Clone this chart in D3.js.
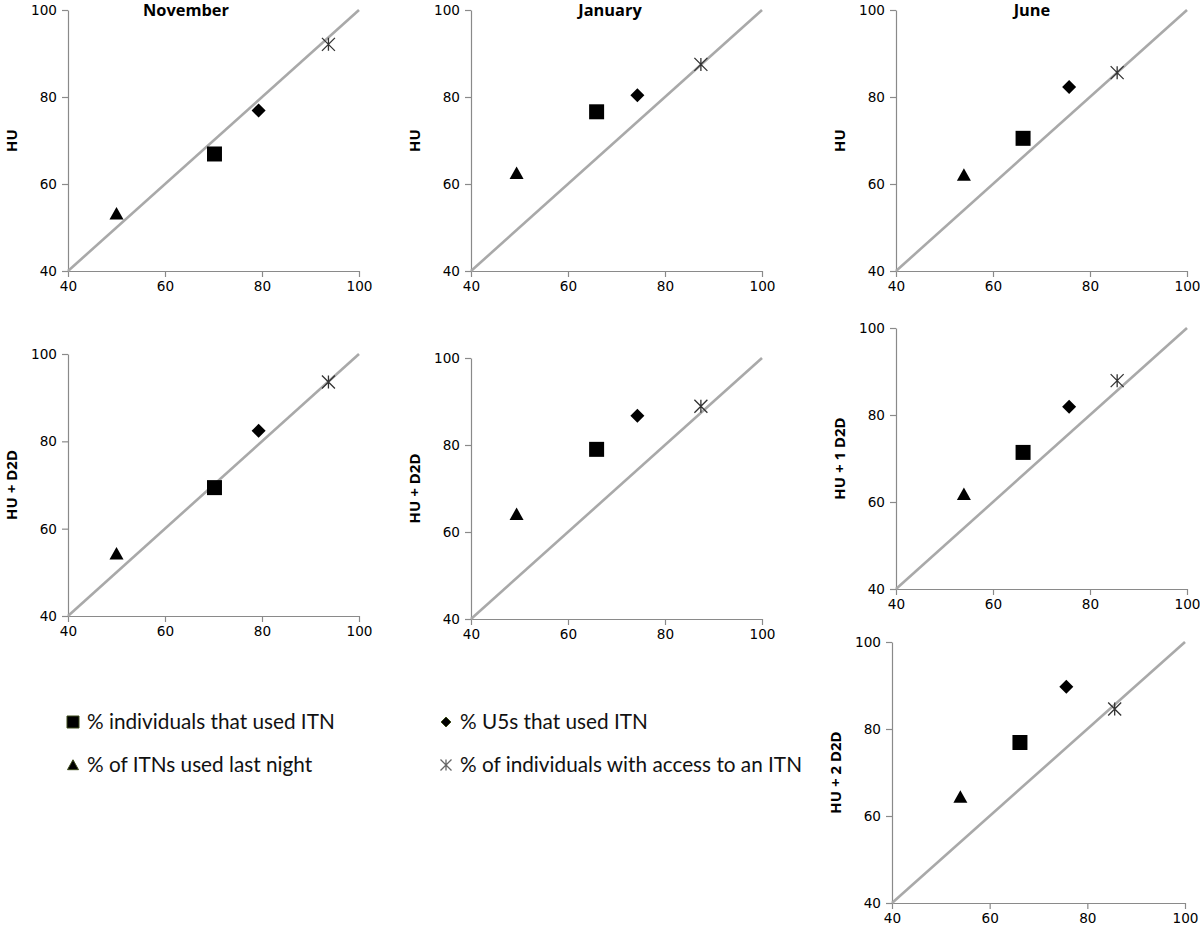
<!DOCTYPE html>
<html>
<head>
<meta charset="utf-8">
<script src="https://cdn.jsdelivr.net/npm/d3@7"></script>
<style>
  html, body { margin: 0; padding: 0; background: #fff; }
  svg { display: block; }
</style>
</head>
<body>
<svg id="chart" width="1200" height="934"></svg>
<script>
// ---------- DATA ----------
const seriesNames = [
  "% individuals that used ITN",
  "% U5s that used ITN",
  "% of ITNs used last night",
  "% of individuals with access to an ITN"
];
const seriesShapes = ["square", "diamond", "triangle", "star"];
const months = ["November", "January", "June"];
const tickValues = [40, 60, 80, 100];

// x values (same for every strategy in a month), order = seriesNames
const xNovember = [70.2, 79.3, 50.0, 93.7];
const xJanuary  = [65.9, 74.3, 49.4, 87.4];
const xJune     = [66.2, 75.7, 54.0, 85.6];

// y values per strategy, order = seriesNames
const yNovemberHU     = [66.9, 76.9, 53.2, 92.1];
const yNovemberHUD2D  = [69.4, 82.4, 54.3, 93.6];
const yJanuaryHU      = [76.6, 80.4, 62.5, 87.5];
const yJanuaryHUD2D   = [79.0, 86.7, 64.1, 88.9];
const yJuneHU         = [70.5, 82.3, 62.1, 85.6];
const yJuneHU1D2D     = [71.4, 81.9, 61.8, 87.9];
const yJuneHU2D2D     = [76.9, 89.7, 64.4, 84.6];

const yLabels = ["HU", "HU + D2D", "HU", "HU + D2D", "HU", "HU + 1 D2D", "HU + 2 D2D"];

// ---------- LAYOUT ----------
const panels = [
  {title: months[0], ylab: yLabels[0], xs: xNovember, ys: yNovemberHU,    box: [68, 359, 10, 271],  titleX: 186},
  {title: months[1], ylab: yLabels[2], xs: xJanuary,  ys: yJanuaryHU,     box: [471, 762, 10, 271], titleX: 610},
  {title: months[2], ylab: yLabels[4], xs: xJune,     ys: yJuneHU,        box: [896, 1187, 10, 271], titleX: 1032},
  {title: null,      ylab: yLabels[1], xs: xNovember, ys: yNovemberHUD2D, box: [68, 359, 354, 616]},
  {title: null,      ylab: yLabels[3], xs: xJanuary,  ys: yJanuaryHUD2D,  box: [471, 762, 358, 619]},
  {title: null,      ylab: yLabels[5], xs: xJune,     ys: yJuneHU1D2D,    box: [896, 1187, 328, 589]},
  {title: null,      ylab: yLabels[6], xs: xJune,     ys: yJuneHU2D2D,    box: [892, 1185, 642, 903]}
];

const svg = d3.select("#chart");
const axisColor = "#8a8a8a";
const diagColor = "#a9a9a9";
const tickFont = "'DejaVu Sans', Verdana, sans-serif";
const labelFont = "'Open Sans', 'Liberation Sans', Arial, sans-serif";
const legendFont = "Lato, 'Open Sans', sans-serif";

// font size that makes `txt` as wide as `target` pixels in the given font
function fitSize(txt, family, weight, target) {
  const t = svg.append("text").style("font-family", family).style("font-weight", weight)
    .style("font-size", "20px").text(txt);
  const w = t.node().getComputedTextLength();
  t.remove();
  return 20 * target / w;
}
const tickSize   = fitSize("100", tickFont, "normal", 26);
const titleSize  = fitSize("November", labelFont, "bold", 86);
const ylabSize   = fitSize("HU + D2D", labelFont, "bold", 70);
const legendSize = fitSize(seriesNames[0], legendFont, "normal", 248);

function shapePath(shape, s) {
  const h = s / 2;
  switch (shape) {
    case "square":   return `M${-h},${-h}H${h}V${h}H${-h}Z`;
    case "diamond":  return `M0,${-h}L${h},0L0,${h}L${-h},0Z`;
    case "triangle": return `M0,${-h * 0.95}L${h},${h * 0.85}L${-h},${h * 0.85}Z`;
    case "star":     return `M${-h},${-h}L${h},${h}M${-h},${h}L${h},${-h}M0,${-h}L0,${h}`;
  }
}
const markerSize = {square: 15, diamond: 14, triangle: 14, star: 13};

panels.forEach(p => {
  const [x0, x1, y0, y1] = p.box;
  const x = d3.scaleLinear().domain([40, 100]).range([x0, x1]);
  const y = d3.scaleLinear().domain([40, 100]).range([y1, y0]);
  const g = svg.append("g");

  // axes
  const ax = g.append("g").attr("transform", `translate(0,${y1})`)
    .call(d3.axisBottom(x).tickValues(tickValues).tickSize(6).tickSizeOuter(0).tickPadding(4));
  const ay = g.append("g").attr("transform", `translate(${x0},0)`)
    .call(d3.axisLeft(y).tickValues(tickValues).tickSize(6).tickSizeOuter(0).tickPadding(5));
  [ax, ay].forEach(a => {
    a.select(".domain").attr("stroke", axisColor).attr("stroke-width", 1.2);
    a.selectAll(".tick line").attr("stroke", axisColor).attr("stroke-width", 1.2);
    a.selectAll(".tick text").attr("fill", "#000")
      .style("font-family", tickFont).style("font-size", tickSize + "px");
  });

  // diagonal 1:1 line
  g.append("line")
    .attr("x1", x(40)).attr("y1", y(40))
    .attr("x2", x(100)).attr("y2", y(100))
    .attr("stroke", diagColor).attr("stroke-width", 2.6);

  // points
  p.xs.forEach((xv, i) => {
    const shape = seriesShapes[i];
    const isStar = shape === "star";
    g.append("path")
      .attr("transform", `translate(${x(xv)},${y(p.ys[i])})`)
      .attr("d", shapePath(shape, markerSize[shape]))
      .attr("fill", isStar ? "none" : "#000")
      .attr("stroke", isStar ? "#333" : "none")
      .attr("stroke-width", isStar ? 1.3 : 0);
  });

  // y label
  const cy = (y0 + y1) / 2;
  g.append("text")
    .attr("transform", `translate(${x0 - 51},${cy}) rotate(-90)`)
    .attr("text-anchor", "middle")
    .style("font-family", labelFont).style("font-weight", "bold").style("font-size", ylabSize + "px")
    .attr("fill", "#000")
    .text(p.ylab);

  if (p.title) {
    g.append("text")
      .attr("x", p.titleX).attr("y", 16)
      .attr("text-anchor", "middle")
      .style("font-family", labelFont).style("font-weight", "bold").style("font-size", titleSize + "px")
      .attr("fill", "#000")
      .text(p.title);
  }
});

// ---------- LEGEND ----------
const legendPos = [[73, 722], [446, 722], [73, 765], [446, 765]];
const legendMarker = {square: 12, diamond: 10, triangle: 11, star: 11};
seriesNames.forEach((name, i) => {
  const shape = seriesShapes[i];
  const [lx, ly] = legendPos[i];
  const isStar = shape === "star";
  svg.append("path")
    .attr("transform", `translate(${lx},${ly})`)
    .attr("d", shapePath(shape, legendMarker[shape]))
    .attr("fill", isStar ? "none" : "#000")
    .attr("stroke", isStar ? "#666" : "#3d4a1a")
    .attr("stroke-width", isStar ? 1.3 : 1);
  svg.append("text")
    .attr("x", lx + 14).attr("y", ly + 7)
    .style("font-family", legendFont).style("font-size", legendSize + "px")
    .attr("fill", "#111")
    .text(name);
});
</script>
</body>
</html>
